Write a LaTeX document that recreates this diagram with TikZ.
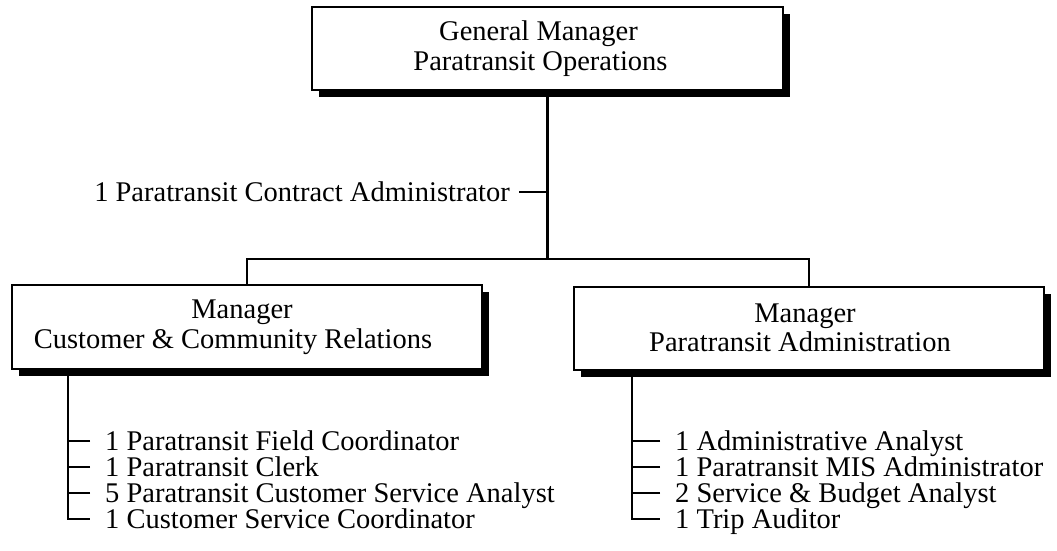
\documentclass[tikz,border=0pt]{standalone}
\usepackage{fontspec}
\setmainfont{Liberation Serif}
\usetikzlibrary{shadows}
\begin{document}
\begin{tikzpicture}[x=1pt,y=-1pt,
  every node/.style={font=\fontsize{28.5}{29.5}\selectfont},
  box/.style={draw=black, line width=2pt, fill=white, align=center, inner sep=0pt,
    drop shadow={shadow xshift=7pt, shadow yshift=-7pt, opacity=1, fill=black}},
  conn/.style={line width=2.5pt},
  item/.style={anchor=west, inner xsep=15pt, inner ysep=0pt, text height=18pt, text depth=0pt},
]
\useasboundingbox (0,0) rectangle (1057,550);

\node[box, minimum width=471pt, minimum height=83pt] (gm) at (547.5,48.5)
  {General Manager\hspace*{18pt}\\Paratransit Operations\hspace*{14pt}};
\node[box, minimum width=470pt, minimum height=84pt] (cb) at (247,327)
  {Manager\hspace*{10pt}\\Customer \& Community Relations\hspace*{28pt}};
\node[box, minimum width=470pt, minimum height=83pt] (pa) at (809,328)
  {Manager\hspace*{8pt}\\Paratransit Administration\hspace*{18pt}};

\coordinate (bar) at (548,259);
\draw[conn] (gm.south) -- (gm.south |- bar);
\draw[conn] (cb.north) |- (gm.south |- bar) -| (pa.north);

\node[item, anchor=east, inner xsep=9pt] (ca) at (519,192) {1 Paratransit Contract Administrator};
\draw[conn] (ca.east) -- (ca.east -| gm.south);

% left list
\coordinate (lt) at (68,377);
\node[item] (l1) at (90,441) {1 Paratransit Field Coordinator};
\node[item] (l2) at (90,467) {1 Paratransit Clerk};
\node[item] (l3) at (90,493) {5 Paratransit Customer Service Analyst};
\node[item] (l4) at (90,519) {1 Customer Service Coordinator};
\draw[conn] (lt |- cb.south) |- (l4.west);
\foreach \n in {l1,l2,l3} \draw[conn] (\n.west) -- (\n.west -| lt);

% right list
\coordinate (rt) at (632,377);
\node[item] (r1) at (660,441) {1 Administrative Analyst};
\node[item] (r2) at (660,467) {1 Paratransit MIS Administrator};
\node[item] (r3) at (660,493) {2 Service \& Budget Analyst};
\node[item] (r4) at (660,519) {1 Trip Auditor};
\draw[conn] (rt |- pa.south) |- (r4.west);
\foreach \n in {r1,r2,r3} \draw[conn] (\n.west) -- (\n.west -| rt);
\end{tikzpicture}
\end{document}
